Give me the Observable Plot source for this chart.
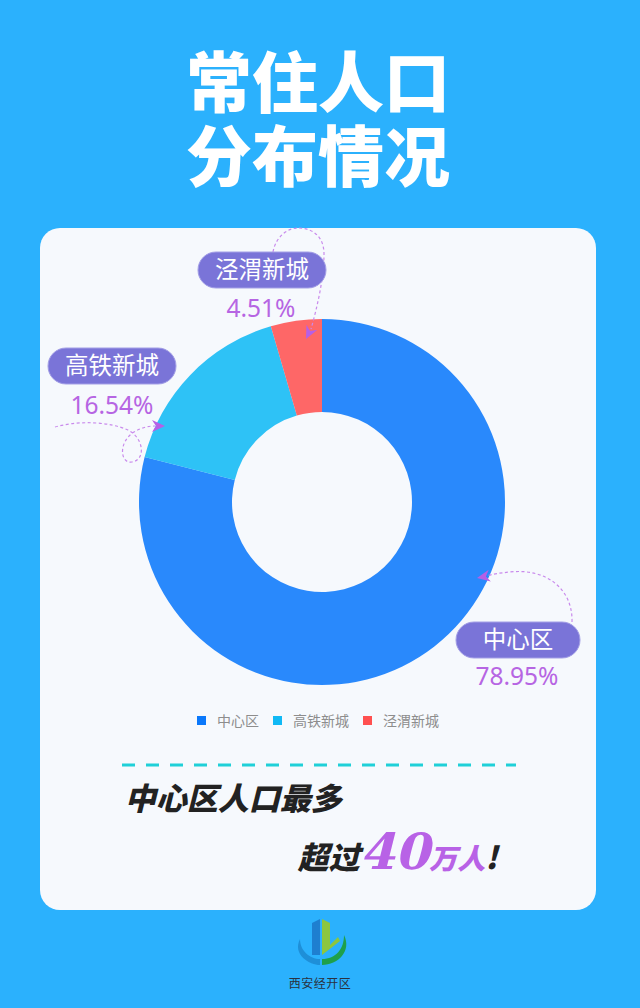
<!DOCTYPE html>
<html>
<head>
<meta charset="utf-8">
<script src="https://cdn.jsdelivr.net/npm/d3@7"></script>
<script src="https://cdn.jsdelivr.net/npm/@observablehq/plot@0.6"></script>
<style>
  html, body { margin: 0; padding: 0; }
  body { width: 640px; height: 1008px; overflow: hidden; font-family: "Noto Sans CJK SC", "Noto Sans", sans-serif; }
  #page { position: relative; width: 640px; height: 1008px; background: #2bb1fd; }
  .title { position: absolute; left: 0; top: 41px; width: 636px; text-align: center; color: #fff; font-weight: 900; font-size: 66px; line-height: 74px; }
  #card { position: absolute; left: 40px; top: 228px; width: 556px; height: 682px; border-radius: 20px; background: #f6f9fd; }
  #chart { position: absolute; left: 0; top: 0; }
  #chart svg { overflow: visible; }
  #legend { position: absolute; left: 0; top: 482px; width: 556px; display: flex; justify-content: center; }
  .line1 { position: absolute; left: 88px; top: 546px; font-size: 31px; font-weight: 900; color: #222; transform: skewX(-14deg); white-space: nowrap; }
  .line2 { position: absolute; left: 262px; top: 594px; font-size: 31px; font-weight: 900; color: #222; transform: skewX(-14deg); white-space: nowrap; }
  .line2 .num { font-family: "DejaVu Serif", serif; font-size: 50px; color: #b862e6; font-weight: bold; }
  .line2 .unit { color: #b862e6; font-size: 28px; }
  #logo { position: absolute; left: 270px; top: 915px; width: 100px; height: 80px; text-align: center; }
  #logo .name { position: absolute; left: 0; top: 59px; width: 100px; text-align: center; font-size: 12px; color: #2a3140; letter-spacing: 0.5px; }
</style>
</head>
<body>
<div id="page">
  <div class="title">常住人口<br>分布情况</div>
  <div id="card">
    <div id="chart"></div>
    <div id="legend"></div>
    <svg id="dash" width="556" height="10" style="position:absolute;left:0;top:532px"><line x1="82" x2="476" y1="5" y2="5" stroke="#1fd0d8" stroke-width="3" stroke-dasharray="13,11"/></svg>
    <div class="line1">中心区人口最多</div>
    <div class="line2">超过<span class="num">40</span><span class="unit">万人</span>!</div>
  </div>
  <div id="logo">
    <svg width="100" height="56" viewBox="0 0 100 56">
      <path d="M42,8 L50,4 L50,40 L42,40 Z" fill="#1e7fd0"/>
      <path d="M52,4 L60,8 L60,30 L68,22 L70,26 L52,40 Z" fill="#8cc63f"/>
      <path d="M30,24 C22,40 40,50 50,50 L50,44 C40,44 30,36 30,24 Z" fill="#1e8fd8"/>
      <path d="M74,20 C82,36 68,50 52,50 L52,44 C66,44 74,34 74,20 Z" fill="#1fa04a"/>
    </svg>
    <div class="name">西安经开区</div>
  </div>
</div>
<script>
// ---- data ----
const categories = ["中心区", "高铁新城", "泾渭新城"];
const shares = [78.95, 16.54, 4.51];           // percent
const palette = ["#0a78fb", "#10b9f5", "#ff5050"];

const rows = categories.map((name, i) => ({name, value: shares[i]}));

// ---- layout (not data) ----
const CX = 282, CY = 274, R_IN = 90, R_OUT = 183;
const callouts = {
  "中心区":  {pill: [416, 394, 124], pct: [477, 457],
             path: "M532,394 C533,360 505,340 470,344 C460,345 452,346 447,348", tip: [437, 350], dir: [-1, 0.18]},
  "高铁新城": {pill: [8, 120, 128], pct: [72, 186],
             path: "M15,199 C40,192 70,194 88,202 C104,210 106,232 92,234 C80,236 78,214 94,204 C102,199 110,198 115,198", tip: [125, 198], dir: [1, 0]},
  "泾渭新城": {pill: [158, 24, 128], pct: [221, 89],
             path: "M233,24 C236,8 248,0 258,0 C272,0 284,8 284,26 C284,50 277,80 271,101", tip: [266, 111], dir: [-0.45, 0.9]}
};

const color = Plot.scale({color: {type: "categorical", domain: categories, range: palette}});

function donut() {
  const g = d3.create("svg:g");
  const pie = d3.pie().sort(null).value(d => d.value).startAngle(0).endAngle(2 * Math.PI)(rows);
  const arc = d3.arc().innerRadius(R_IN).outerRadius(R_OUT);
  g.append("g")
    .attr("transform", `translate(${CX},${CY})`)
    .selectAll("path").data(pie).join("path")
    .attr("d", arc)
    .attr("fill", d => color.apply(d.data.name))
    .attr("fill-opacity", 0.87);

  for (const r of rows) {
    const c = callouts[r.name];
    const a = g.append("g");
    a.append("path").attr("d", c.path).attr("fill", "none")
      .attr("stroke", "#c98aec").attr("stroke-width", 1.2).attr("stroke-dasharray", "3,2.5");
    const [tx, ty] = c.tip; let [dx, dy] = c.dir;
    const L = Math.hypot(dx, dy); dx /= L; dy /= L;
    const px = -dy, py = dx, len = 13, w = 6, notch = 4;
    const bx = tx - dx * len, by = ty - dy * len;
    const nx = tx - dx * (len - notch), ny = ty - dy * (len - notch);
    a.append("path")
      .attr("d", `M${tx},${ty} L${bx + px * w},${by + py * w} L${nx},${ny} L${bx - px * w},${by - py * w} Z`)
      .attr("fill", "#b65fe6");
    const [x0, y0, pw] = c.pill;
    a.append("rect").attr("x", x0).attr("y", y0).attr("width", pw).attr("height", 36).attr("rx", 18)
      .attr("fill", "#7a74d8").attr("stroke", "#a39fe6").attr("stroke-width", 1);
    a.append("text").attr("x", x0 + pw / 2).attr("y", y0 + 18).attr("dy", "0.36em")
      .attr("text-anchor", "middle").attr("fill", "#fff")
      .attr("font-family", "'Noto Sans CJK SC', sans-serif").attr("font-size", 23.5)
      .text(r.name);
    a.append("text").attr("x", c.pct[0]).attr("y", c.pct[1])
      .attr("text-anchor", "middle").attr("fill", "#b665e3")
      .attr("font-family", "'Noto Sans', sans-serif").attr("font-size", 24.5)
      .text(r.value.toFixed(2) + "%");
  }
  return g.node();
}

const plot = Plot.plot({
  width: 556,
  height: 470,
  margin: 0,
  style: {background: "transparent", overflow: "visible"},
  marks: [donut]
});
document.getElementById("chart").append(plot);

const legend = Plot.legend({
  color: {type: "categorical", domain: categories, range: palette},
  legend: "swatches",
  swatchSize: 9,
  style: {fontSize: "14px", color: "#8d8d8d", fontFamily: "'Noto Sans CJK SC', sans-serif", background: "transparent"}
});
document.getElementById("legend").append(legend);
</script>
<style>
  #legend > div { gap: 0 !important; align-items: center; min-height: 20px; margin: 0 !important; }
  #legend > div > span { margin-right: 14px !important; margin-left: 0 !important; }
  #legend > div > span:last-child { margin-right: 0 !important; }
  #legend svg { margin-right: 11px !important; }
</style>
</body>
</html>
